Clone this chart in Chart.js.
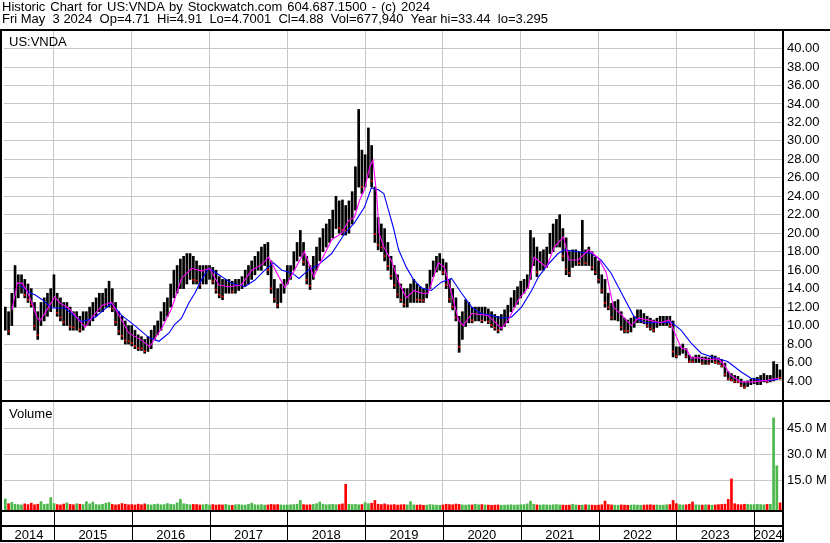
<!DOCTYPE html>
<html>
<head>
<meta charset="utf-8">
<script src="https://cdn.jsdelivr.net/npm/chart.js@4.4.1/dist/chart.umd.min.js"></script>
<style>
  body { margin: 0; background: #fff; font-family: Arial, "Liberation Sans", sans-serif; }
  #wrap { position: relative; width: 830px; height: 543px; overflow: hidden; }
  #c { position: absolute; left: 0; top: 0; }
  .hdr { position: absolute; left: 2px; font-size: 13px; line-height: 12px; white-space: pre; color: #000; }
  .lbl { position: absolute; font-size: 13px; line-height: 13px; color: #000; }
</style>
</head>
<body>
<div id="wrap">
  <canvas id="c" width="830" height="543"></canvas>
  <div class="hdr" style="top:1px;word-spacing:1.3px">Historic Chart for US:VNDA by Stockwatch.com 604.687.1500 - (c) 2024</div>
  <div class="hdr" style="top:13px">Fri May  3 2024  Op=4.71  Hi=4.91  Lo=4.7001  Cl=4.88  Vol=677,940  Year hi=33.44  lo=3.295</div>
  <div class="lbl" style="left:9px;top:35px">US:VNDA</div>
  <div class="lbl" style="left:9px;top:407px">Volume</div>
</div>
<script>
// half-month price bars, starting mid May 2014
const barStart = 2014.375;
const barStep = 1 / 24;

const lows = [
  9.5,9,10,12,13,13.5,13,12.5,12,9.5,
  8.5,10,10.5,11,11.5,12,11,10.5,10,10,
  9.5,9.5,9.5,9.3,9.5,10,10,10.5,11,11.5,
  11.5,12,12,11.5,10,9,8.5,8,8,7.8,
  7.5,7.3,7.3,7,7.2,7.5,8.5,9,9.5,10.5,
  11,12,13,13.5,14,14,14.5,15,14.5,14.5,
  14,14.5,14.5,15,14.5,13.5,13,12.8,13.5,13.5,
  13.5,13.5,13.8,14,14.3,14.5,15,15.5,16,16,
  16.5,15.5,13.5,12.5,11.9,12.5,13.5,14.5,15,16,
  17,17.5,16.5,14.5,13.9,15,16,17,18,18.5,
  19,19.5,20.5,20,19.8,19.8,20,21,22.5,25,
  24.3,25,26,25,19,18.2,18,17,16,15,
  14,13,12.5,12,12,12.5,12.5,12.5,12.5,12.5,
  13,14,15.3,15.8,16,15.5,14,12.5,11.7,10.5,
  7.1,8.5,9.9,10.3,10.3,10.5,10.5,10.3,10.5,10.2,
  9.8,9.5,9.2,9.5,9.9,10.3,11.5,12,12.3,13,
  13.5,14,15,16.5,15.3,16,16,16.3,17.8,18,
  18.5,18.5,17,15.5,15.3,16.3,16.5,16.5,16.5,16.5,
  16.5,16,15.5,14.6,13.5,12,11.7,10.6,10.6,10.5,
  9.5,9.2,9.2,9.3,9.8,10.3,10.3,10.2,9.8,9.5,
  9.3,9.8,10,10,10,9.8,6.6,6.5,6.8,7,
  6.5,6,6,6,6,5.8,5.8,5.8,6,5.9,
  5.8,5.5,4.5,4.1,4,3.8,3.8,3.4,3.2,3.4,
  3.6,3.7,3.6,3.6,3.9,3.8,3.9,4,4.3,4.2
];
const highs = [
  12,11.5,13.5,16.5,15.5,15.5,15,14.5,14,12.5,
  11.5,12.5,13,13.5,14,15.5,13.5,13,12.5,12.5,
  12,11.5,11.5,11,11.5,11.5,12,12.5,13,13.5,
  13.5,14,14.8,14,12.5,11.5,11,10.5,10,10,
  9.5,9,8.8,8.5,8.8,9.5,10,10.5,11.5,12.5,
  13,14.5,16,16.5,17.2,17.5,17.8,17.8,17.5,17,
  16.5,16.5,16.5,16.5,16.3,16,15.3,15,15,15,
  14.8,15,15,15.3,16,16.5,17,17.5,18,18.5,
  18.8,19,17,15,14,14.5,15,16.5,16.5,18,
  19,20.3,19,17.5,16.5,17.5,18.5,19.5,20.5,21,
  21.5,22.5,24,23.5,23.6,23,23.5,24.5,27.2,33.4,
  29,28.5,31.4,29.5,25,21.7,21,20.5,19,17.5,
  16.5,15.5,14.5,14,14,14.5,15,14.5,14.2,14,
  14.5,16,17,17.5,17.8,17.2,16.8,15,14,13,
  11,11.5,12.8,12.5,12,12,12,12,12,11.8,
  11.5,11.2,11,11.2,11.7,12.2,13,13.8,14.2,14.8,
  15,15.5,20.3,19.5,18.5,18,18.2,18.5,20,21,
  21.5,22,20.5,19.5,18,18.2,18.2,18,21.4,18.2,
  18.5,18,17.4,17,15.5,15,13.5,12.4,12.6,12.8,
  11.5,10.8,10.6,10.8,11,11.7,11.7,11.3,11,10.8,
  10.6,10.8,11,11,11,11,10.5,7.7,7.7,8,
  7.5,6.8,6.6,6.8,6.8,6.6,6.6,6.5,6.8,6.7,
  6.5,6.3,5.9,5,4.8,4.6,4.5,4.2,3.9,4,
  4.2,4.3,4.4,4.6,4.8,4.6,4.6,6.1,5.8,5.2
];

// volume in millions, same half-month slots
const volumes = [
  4.2,1.5,2.2,1.2,1.0,0.8,1.4,1.0,1.8,0.9,1.2,2.7,1.1,1.3,5.0,
  1.6,1.0,0.8,1.3,2.0,1.1,0.9,1.5,1.2,1.0,2.7,1.4,2.4,1.0,0.9,1.2,1.8,2.2,1.1,0.8,1.0,1.6,1.2,0.9,
  1.0,0.8,1.2,0.9,1.4,1.0,0.8,1.1,1.3,0.9,1.0,1.6,1.2,1.0,2.0,4.0,1.5,1.2,0.9,1.1,1.0,0.8,0.9,1.2,
  0.8,1.0,0.7,0.9,0.8,1.1,0.7,0.6,0.9,1.0,0.8,0.7,1.2,1.8,0.9,0.8,1.0,0.7,0.8,1.1,0.9,1.0,0.8,0.7,
  0.8,0.9,1.0,1.2,3.4,1.0,0.8,0.9,1.1,1.5,2.5,1.2,0.9,1.0,1.2,0.9,1.0,1.4,12.7,1.2,1.0,1.1,0.9,1.0,
  2.2,1.5,1.8,3.4,1.2,1.0,1.4,0.9,0.8,1.0,0.7,0.9,1.0,0.8,2.7,0.9,0.7,0.8,0.6,0.7,1.0,0.8,0.7,0.6,
  0.8,1.2,1.0,0.9,1.3,1.1,0.8,0.7,0.9,0.8,1.2,0.9,1.0,0.8,0.7,0.6,0.7,0.8,0.6,0.7,0.8,0.9,0.7,0.8,
  0.9,1.0,1.4,3.0,1.2,0.8,0.7,0.9,0.8,0.7,0.9,1.0,0.8,0.7,0.6,0.7,1.2,0.8,0.6,0.7,0.9,0.8,0.7,0.6,
  0.7,0.9,3.0,1.0,0.8,0.7,0.6,0.8,0.7,0.6,0.7,0.8,0.7,0.6,0.7,0.8,0.9,0.7,0.8,0.6,0.7,0.9,1.0,3.4,
  1.5,1.0,0.8,0.9,1.2,2.5,0.9,0.8,0.7,0.9,0.8,0.7,0.8,1.0,1.1,1.2,4.0,15.8,1.5,1.0,0.9,1.2,1.1,1.0,
  1.0,1.2,1.0,0.9,1.1,1.2,51,23.4,2.0
];

// short moving average (magenta)
const fastDates = [2014.46,2014.53,2014.59,2014.65,2014.72,2014.78,2014.82,2014.91,2015.01,2015.08,
  2015.19,2015.32,2015.40,2015.49,2015.62,2015.74,2015.85,2015.96,2016.13,2016.23,
  2016.39,2016.51,2016.64,2016.77,2016.90,2017.00,2017.12,2017.25,2017.41,2017.54,
  2017.67,2017.76,2017.89,2017.97,2018.09,2018.22,2018.34,2018.44,2018.57,2018.70,
  2018.79,2018.86,2018.93,2018.99,2019.06,2019.10,2019.15,2019.18,2019.24,2019.34,
  2019.44,2019.53,2019.63,2019.72,2019.81,2019.94,2020.02,2020.11,2020.20,2020.26,
  2020.37,2020.58,2020.75,2020.84,2020.97,2021.10,2021.17,2021.26,2021.33,2021.43,
  2021.55,2021.62,2021.74,2021.87,2022.00,2022.10,2022.19,2022.29,2022.42,2022.51,
  2022.64,2022.80,2022.91,2023.00,2023.06,2023.13,2023.19,2023.28,2023.41,2023.54,
  2023.61,2023.70,2023.83,2023.99,2024.18,2024.31];
const fastVals = [11.7,14.6,14.6,13.8,12.4,10.9,10.5,11.7,13.1,12.4,
  11.9,10.6,9.8,10.9,12.2,12.5,10.9,9.2,8.4,7.7,
  9.8,11.8,15.1,16.2,15.9,16.2,14.4,14.2,14.4,16,
  16.6,17.4,15.3,14.1,16,18,15.3,17.1,19.3,20,
  21.4,21.7,23.6,24.7,27.2,27.9,24,20,18.5,17,
  14.5,13,13.8,13.5,13.5,16.8,16.3,13.5,10.6,10,
  11.3,11.1,9.7,10.6,12.8,14.2,17.4,16.8,16.3,18.5,
  19.6,17.1,17.1,18.2,17.3,15.7,12,11.2,10,10.8,
  10.6,10.3,10.6,8.8,7.6,7.4,6.5,6.5,6.3,6.4,
  5.8,4.6,3.9,3.9,4.1,4.3];

// long moving average (blue)
const slowDates = [2014.56,2014.68,2014.76,2014.85,2014.97,2015.14,2015.36,2015.53,2015.74,2015.87,
  2016.04,2016.22,2016.35,2016.48,2016.55,2016.64,2016.73,2016.81,2016.90,2016.99,
  2017.12,2017.28,2017.45,2017.58,2017.71,2017.82,2017.93,2018.06,2018.15,2018.27,
  2018.40,2018.57,2018.74,2018.86,2018.99,2019.08,2019.17,2019.24,2019.30,2019.36,
  2019.43,2019.53,2019.62,2019.72,2019.85,2019.98,2020.11,2020.24,2020.37,2020.49,
  2020.62,2020.75,2020.88,2021.01,2021.14,2021.23,2021.35,2021.48,2021.56,2021.74,
  2021.91,2022.03,2022.16,2022.29,2022.46,2022.59,2022.77,2022.93,2023.06,2023.19,
  2023.32,2023.49,2023.66,2023.83,2023.96,2024.13,2024.31];
const slowVals = [14.4,13.6,13.3,12.8,11.9,11.9,10.4,10.9,12.4,11.1,
  10,8.7,8.3,9.2,10.1,10.8,12.4,13.5,15,16.2,
  15.5,14.6,14.2,14.9,16,16.8,16,15.7,15.1,16,
  16.6,17.8,20,21.1,22.8,24.9,24.7,24.3,22.5,20.7,
  18.2,16.3,15,14.1,13.8,14.7,15.1,13.5,12,11.3,
  11.1,10.8,10.9,12,13.8,15.3,16.6,17.8,18.2,18,
  17.8,17.1,15.7,13.6,10.9,10.3,10.3,10.4,9.5,8.1,
  7,6.5,6.1,5,4.3,4,4.2];

const yearTicks = [2015,2016,2017,2018,2019,2020,2021,2022,2023,2024];
const yearLabelPos = [2014.68,2015.5,2016.5,2017.5,2018.5,2019.5,2020.5,2021.5,2022.5,2023.5,2024.18];
const priceTicks = [4,6,8,10,12,14,16,18,20,22,24,26,28,30,32,34,36,38,40];
const volTicks = [15,30,45];

const xMin = 2014.358, xMax = 2024.358;
const pMin = 1.83, pMax = 41.9;
const vMin = -2.13, vMax = 60.75;
const gridColor = '#c6c6c6';
const tickFont = { size: 13, family: 'Arial, "Liberation Sans"' };

const tAt = i => barStart + i * barStep;
const mids = highs.map((h, i) => (h + lows[i]) / 2);
const isDown = mids.map((m, i) => i > 0 && m < mids[i - 1]);
const volColors = volumes.map((v, i) => isDown[i] ? '#ff0000' : '#4cb84c');

// red tick on the down bars, near the bottom of the bar
const downTicks = [];
highs.forEach((h, i) => {
  if (isDown[i]) downTicks.push({ x: tAt(i), y: lows[i] + (h - lows[i]) * 0.15 });
});

const frame = {
  id: 'frame',
  afterDraw(chart) {
    const ctx = chart.ctx;
    const xs = chart.scales.x;
    ctx.save();
    ctx.fillStyle = '#000';
    ctx.fillRect(0, 29, 830, 2);
    ctx.fillRect(0, 29, 2, 513);
    ctx.fillRect(782, 29, 2, 513);
    ctx.fillRect(0, 400, 830, 2);
    ctx.fillRect(0, 510, 784, 2);
    ctx.fillRect(0, 525, 784, 2);
    ctx.fillRect(0, 540, 784, 2);
    yearTicks.forEach(y => {
      const px = Math.round(xs.getPixelForValue(y));
      ctx.fillRect(px, 511, 1, 30);
    });
    ctx.restore();
  }
};

new Chart(document.getElementById('c').getContext('2d'), {
  type: 'bar',
  data: {
    datasets: [
      {
        type: 'line',
        data: fastDates.map((d, i) => ({ x: d, y: fastVals[i] })),
        borderColor: '#ff00ff', borderWidth: 1.1, pointRadius: 0,
        yAxisID: 'y', xAxisID: 'x', order: 0
      },
      {
        type: 'line',
        data: slowDates.map((d, i) => ({ x: d, y: slowVals[i] })),
        borderColor: '#0000ff', borderWidth: 1.1, pointRadius: 0,
        yAxisID: 'y', xAxisID: 'x', order: 0
      },
      {
        type: 'scatter',
        data: downTicks,
        pointStyle: 'rect', pointRadius: 1.2, borderWidth: 0,
        backgroundColor: '#ff0000',
        yAxisID: 'y', xAxisID: 'x', order: 1
      },
      {
        type: 'bar',
        data: highs.map((h, i) => ({ x: tAt(i), y: [lows[i], h] })),
        backgroundColor: '#000', barThickness: 2, grouped: false,
        yAxisID: 'y', xAxisID: 'x', order: 2
      },
      {
        type: 'bar',
        data: volumes.map((v, i) => ({ x: tAt(i), y: v })),
        backgroundColor: volColors, barThickness: 2, grouped: false, base: vMin,
        yAxisID: 'yv', xAxisID: 'x', order: 2
      }
    ]
  },
  options: {
    responsive: false,
    animation: false,
    devicePixelRatio: 1,
    layout: { padding: { top: 31, left: 2, right: 0, bottom: 0 } },
    plugins: { legend: { display: false }, tooltip: { enabled: false } },
    scales: {
      y: {
        type: 'linear', position: 'right', stack: 'panels', stackWeight: 370,
        min: pMin, max: pMax,
        afterBuildTicks: s => { s.ticks = priceTicks.map(v => ({ value: v })); },
        afterFit: s => { s.width = 48; },
        grid: { color: gridColor, drawTicks: false },
        border: { display: false },
        ticks: { color: '#000', font: tickFont, padding: 5, autoSkip: false,
          callback: v => Number(v).toFixed(2) }
      },
      yv: {
        type: 'linear', position: 'right', stack: 'panels', stackWeight: 109,
        min: vMin, max: vMax,
        afterBuildTicks: s => { s.ticks = volTicks.map(v => ({ value: v })); },
        afterFit: s => { s.width = 48; },
        grid: { color: gridColor, drawTicks: false },
        border: { display: false },
        ticks: { color: '#000', font: tickFont, padding: 5, autoSkip: false,
          callback: v => Number(v).toFixed(1) + ' M' }
      },
      x: {
        type: 'linear', position: 'bottom', min: xMin, max: xMax, offset: false,
        afterBuildTicks: s => { s.ticks = yearTicks.map(v => ({ value: v })); },
        afterFit: s => { s.height = 0; },
        grid: { color: gridColor, drawTicks: false, offset: false },
        border: { display: false },
        ticks: { display: false }
      },
      x2: {
        type: 'linear', position: 'bottom', min: xMin, max: xMax, offset: false,
        afterBuildTicks: s => { s.ticks = yearLabelPos.map(v => ({ value: v })); },
        afterFit: s => { s.height = 33; },
        grid: { display: false },
        border: { display: false },
        ticks: { color: '#000', font: tickFont, padding: 10,
          maxRotation: 0, autoSkip: false, callback: v => String(Math.floor(v)) }
      }
    }
  },
  plugins: [frame]
});
</script>
</body>
</html>
